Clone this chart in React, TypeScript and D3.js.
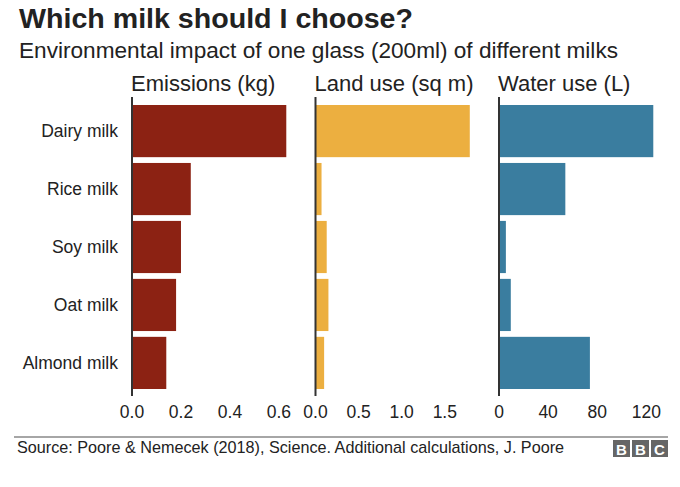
import React from "react";
import * as d3 from "d3";

const categories = ["Dairy milk", "Rice milk", "Soy milk", "Oat milk", "Almond milk"];
const emissions = [0.63, 0.24, 0.2, 0.18, 0.14];
const landUse = [1.79, 0.07, 0.13, 0.15, 0.1];
const waterUse = [125.6, 54, 5.6, 9.6, 74];
const emissionTicks = [0, 0.2, 0.4, 0.6];
const landTicks = [0, 0.5, 1.0, 1.5];
const waterTicks = [0, 40, 80, 120];
const panelTitles = ["Emissions (kg)", "Land use (sq m)", "Water use (L)"];

const FONT = "'Liberation Sans', Arial, Helvetica, sans-serif";
const W = 680;
const H = 487;

const panels = [
  { title: panelTitles[0], values: emissions, ticks: emissionTicks, fmt: d3.format(".1f"), color: "#8c2213", x0: 132 },
  { title: panelTitles[1], values: landUse, ticks: landTicks, fmt: d3.format(".1f"), color: "#ecaf40", x0: 315.5 },
  { title: panelTitles[2], values: waterUse, ticks: waterTicks, fmt: d3.format("d"), color: "#3a7d9f", x0: 499 },
];
const PANEL_W = 162;

export default function App() {
  const y = d3.scaleBand<string>().domain(categories).range([105, 389]).paddingInner(0.1);
  return (
    <svg width={W} height={H} style={{ position: "absolute", left: 0, top: 0, background: "#fff" }} fontFamily={FONT}>
      <text x={19} y={28} fontSize={28} fontWeight="bold" fill="#222" textLength={394} lengthAdjust="spacingAndGlyphs">Which milk should I choose?</text>
      <text x={19} y={58} fontSize={21.5} fill="#222" textLength={599} lengthAdjust="spacingAndGlyphs">Environmental impact of one glass (200ml) of different milks</text>
      {categories.map((c) => (
        <text key={c} x={118} y={(y(c) as number) + y.bandwidth() / 2 + 6} fontSize={17.5} textAnchor="end" fill="#222">{c}</text>
      ))}
      {panels.map((p) => {
        const max = d3.max(p.values) as number;
        const x = d3.scaleLinear().domain([0, max * 1.05]).range([p.x0, p.x0 + PANEL_W]);
        return (
          <g key={p.title}>
            <text x={p.x0 - 1} y={91} fontSize={22} fill="#222">{p.title}</text>
            {p.values.map((v, i) => (
              <rect key={i} x={x(0)} y={y(categories[i])} width={x(v) - x(0)} height={y.bandwidth()} fill={p.color} />
            ))}
            <line x1={x(0)} x2={x(0)} y1={97} y2={396} stroke="#333" strokeWidth={2} />
            {p.ticks.map((t) => (
              <text key={t} x={x(t)} y={418} fontSize={17.5} textAnchor="middle" fill="#222">{p.fmt(t)}</text>
            ))}
          </g>
        );
      })}
      <line x1={14} x2={668} y1={437} y2={437} stroke="#888" strokeWidth={1.5} />
      <text x={17} y={453} fontSize={16.2} fill="#222">Source: Poore &amp; Nemecek (2018), Science. Additional calculations, J. Poore</text>
      {["B", "B", "C"].map((l, i) => (
        <g key={i}>
          <rect x={613 + i * 19} y={440} width={17} height={17} fill="#666" />
          <text x={613 + i * 19 + 8.5} y={454.5} fontSize={15} fontWeight="bold" textAnchor="middle" fill="#fff">{l}</text>
        </g>
      ))}
    </svg>
  );
}
